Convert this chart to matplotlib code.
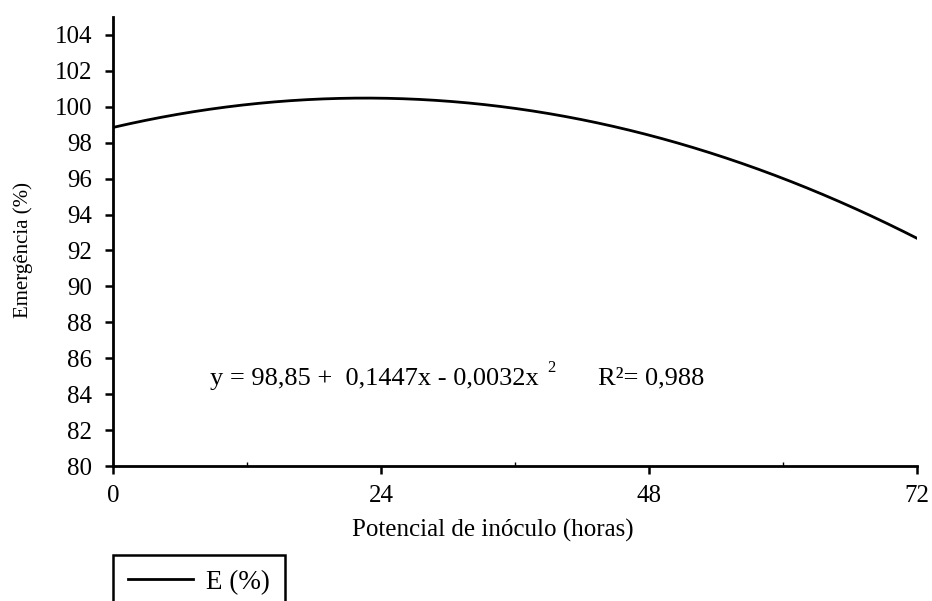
import matplotlib.pyplot as plt
import numpy as np

# quadratic fit E(%) = b0 + b1*x + b2*x^2 over inoculum time
coef_b0 = 98.85
coef_b1 = 0.1447
coef_b2 = -0.0032
r_squared = 0.988

x_range = [0, 72]
x_ticks = [0, 24, 48, 72]
x_minor = [12, 36, 60]
y_ticks = list(range(80, 105, 2))


def br(v, nd):
    # decimal comma
    return f"{v:.{nd}f}".replace(".", ",")


plt.rcParams["font.family"] = ["Liberation Serif", "DejaVu Serif"]

fig = plt.figure(figsize=(9.32, 6.01), dpi=100)
ax = fig.add_axes([0.1212, 0.2246, 0.8627, 0.7471])

x = np.linspace(x_range[0], x_range[1], 300)
y = coef_b0 + coef_b1 * x + coef_b2 * x ** 2
ax.plot(x, y, color="black", linewidth=2.0, label="E (%)")

ax.set_xlim(0, 72)
ax.set_ylim(80, 105)
ax.set_xticks(x_ticks)
ax.set_xticks(x_minor, minor=True)
ax.set_yticks(y_ticks)
ax.tick_params(axis="both", which="major", direction="out", length=6,
               width=1.8, labelsize=18, colors="black")
ax.tick_params(axis="x", which="major", pad=8)
ax.tick_params(axis="x", which="minor", direction="in", length=3, width=1)
ax.tick_params(axis="y", which="major", pad=9)

for side in ["top", "right"]:
    ax.spines[side].set_visible(False)
for side in ["left", "bottom"]:
    ax.spines[side].set_linewidth(2)

ax.set_ylabel("Emergência (%)", fontsize=15)
ax.yaxis.set_label_coords(-0.1, 0.48)
ax.set_xlabel("Potencial de inóculo (horas)", fontsize=18)
ax.xaxis.set_label_coords(0.473, -0.118)

eq = f"y = {br(coef_b0, 2)} +  {br(coef_b1, 4)}x - {br(abs(coef_b2), 4)}x"
t = ax.text(8.7, 84.85, eq, fontsize=19, va="center")
ax.annotate("2", xy=(1, 0.62), xycoords=t, xytext=(6, 0),
            textcoords="offset points", fontsize=12, va="bottom")
ax.text(43.4, 84.85, "R²= " + br(r_squared, 3), fontsize=19, va="center")

leg = fig.legend(loc="upper left", bbox_to_anchor=(113 / 932, 1 - 555 / 601),
                 borderaxespad=0, fontsize=19.5, handlelength=2.4,
                 handletextpad=0.5, borderpad=0.55,
                 fancybox=False, framealpha=1, edgecolor="black")
leg.get_frame().set_linewidth(1.8)

fig.savefig("out.png", dpi=100)
